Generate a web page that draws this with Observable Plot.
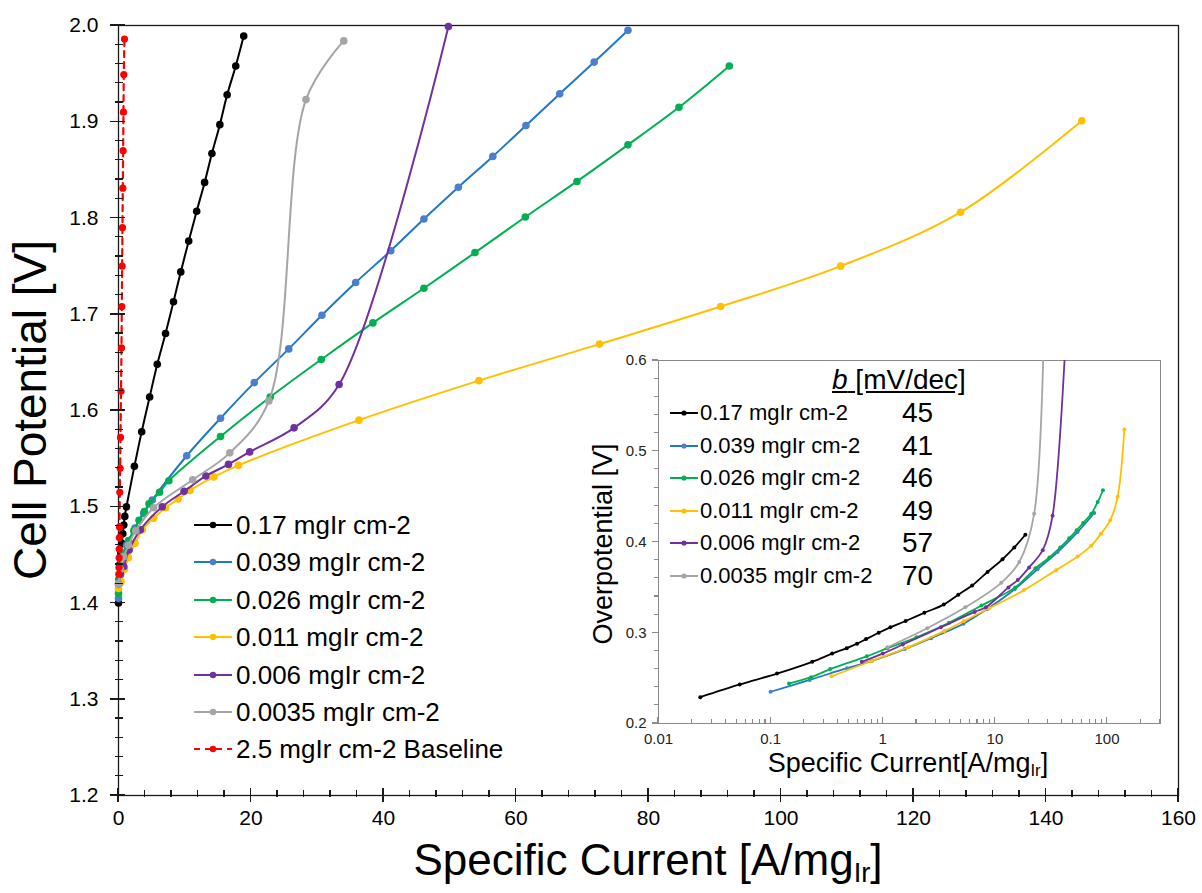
<!DOCTYPE html>
<html><head><meta charset="utf-8">
<script src="https://cdn.jsdelivr.net/npm/d3@7"></script>
<script src="https://cdn.jsdelivr.net/npm/@observablehq/plot@0.6"></script>
<style>
body{margin:0;background:#fff;font-family:"Liberation Sans",Arial,sans-serif;}
#wrap{position:relative;width:1202px;height:893px;overflow:hidden;background:#fff;}
#wrap svg.plot{position:absolute;}
.lbl{position:absolute;white-space:nowrap;color:#000;line-height:1;}
.row{position:absolute;white-space:nowrap;display:flex;align-items:center;line-height:1;color:#000;}
sub{font-size:0.62em;vertical-align:-0.25em;line-height:0;}
</style></head><body><div id="wrap"></div>
<script>
// ---------- series metadata ----------
const seriesNames = ["0.17 mgIr cm-2","0.039 mgIr cm-2","0.026 mgIr cm-2","0.011 mgIr cm-2","0.006 mgIr cm-2","0.0035 mgIr cm-2","2.5 mgIr cm-2 Baseline"];
const lineColors = ["#000000","#1f78c8","#00b050","#ffc000","#7030a0","#a5a5a5","#ff0000"];
const dotColors  = ["#000000","#4a7fd0","#00b050","#ffc000","#7030a0","#a5a5a5","#ff0000"];
const tafelSlopes = ["45","41","46","49","57","70"];

// ---------- main chart data [specific current A/mgIr, cell potential V] ----------
const main017 = [[0,1.40],[0.1,1.425],[0.2,1.44],[0.35,1.452],[0.5,1.462],[0.65,1.472],[0.8,1.481],[0.95,1.49],[1.2,1.50],[2.4,1.542],[3.5,1.578],[4.7,1.614],[5.85,1.648],[7.1,1.680],[8.3,1.713],[9.4,1.744],[10.6,1.776],[11.8,1.807],[13.0,1.837],[14.1,1.867],[15.3,1.897],[16.4,1.928],[17.7,1.958],[18.9,1.989]];
const main039 = [[0,1.405],[0.1,1.42],[0.3,1.435],[0.6,1.447],[1.2,1.46],[2.5,1.478],[3.8,1.493],[5.1,1.507],[10.3,1.553],[15.4,1.592],[20.5,1.629],[25.7,1.664],[30.7,1.699],[35.8,1.733],[41.1,1.766],[46.1,1.799],[51.3,1.832],[56.5,1.864],[61.5,1.896],[66.6,1.929],[71.8,1.962],[76.9,1.995]];
const main026 = [[0,1.41],[0.15,1.425],[0.4,1.44],[0.8,1.452],[1.5,1.465],[2.3,1.475],[3.1,1.486],[3.9,1.495],[4.6,1.503],[6.2,1.515],[7.6,1.527],[15.4,1.573],[22.9,1.614],[30.6,1.653],[38.4,1.691],[46.1,1.727],[53.8,1.764],[61.4,1.801],[69.2,1.838],[76.9,1.876],[84.6,1.915],[92.2,1.958]];
const main011 = [[0,1.415],[0.4,1.422],[0.9,1.435],[1.5,1.447],[2.5,1.462],[3.6,1.476],[5.3,1.488],[7.1,1.499],[9.0,1.508],[10.8,1.517],[14.4,1.531],[18.1,1.543],[36.3,1.590],[54.4,1.631],[72.6,1.669],[90.9,1.708],[109.0,1.750],[127.1,1.806],[145.4,1.901]];
const main006 = [[0,1.42],[0.3,1.43],[0.8,1.438],[1.6,1.455],[3.3,1.476],[6.6,1.500],[9.9,1.516],[13.2,1.532],[16.6,1.544],[19.8,1.557],[26.5,1.582],[33.3,1.627],[49.8,1.999]];
const main0035 = [[0,1.42],[0.3,1.435],[0.8,1.448],[1.5,1.46],[2.6,1.475],[5.3,1.499],[11.2,1.528],[16.8,1.556],[22.7,1.610],[28.3,1.923],[34.0,1.984]];
const mainBase = [[0.05,1.43],[0.07,1.437],[0.09,1.447],[0.11,1.456],[0.13,1.468],[0.15,1.479],[0.2,1.515],[0.25,1.54],[0.3,1.572],[0.38,1.62],[0.45,1.665],[0.5,1.708],[0.55,1.75],[0.6,1.79],[0.65,1.831],[0.7,1.870],[0.75,1.910],[0.8,1.949],[0.9,1.986]];
const mainSeries = [main017, main039, main026, main011, main006, main0035, mainBase];

// ---------- inset data [specific current A/mgIr (log), overpotential V] ----------
const ins017 = [[0.0236,0.229],[0.053,0.243],[0.114,0.255],[0.235,0.268],[0.354,0.277],[0.477,0.283],[0.59,0.288],[0.71,0.293],[0.92,0.300],[1.17,0.306],[1.6,0.313],[2.35,0.322],[3.5,0.331],[4.72,0.342],[6.27,0.352],[8.6,0.367],[11.7,0.381],[14.9,0.394],[18.7,0.408]];
const ins039 = [[0.1,0.235],[0.223,0.248],[0.48,0.261],[0.8,0.269],[1.57,0.282],[2.7,0.294],[5.25,0.310],[8.5,0.326],[15.0,0.348],[24,0.370],[36.3,0.389],[54.7,0.411],[77,0.432]];
const ins026 = [[0.146,0.244],[0.23,0.251],[0.34,0.260],[0.72,0.274],[1.1,0.283],[2.0,0.295],[3.9,0.311],[7.6,0.330],[15.2,0.350],[23,0.371],[30.6,0.383],[38.3,0.394],[46,0.404],[53.7,0.413],[61.4,0.421],[72.4,0.431],[82.6,0.444],[92,0.457]];
const ins011 = [[0.349,0.252],[0.80,0.269],[1.69,0.284],[3.55,0.302],[5.3,0.313],[8.9,0.327],[18.2,0.347],[35.1,0.369],[54.7,0.384],[72.4,0.396],[88.3,0.409],[107,0.424],[124.5,0.450],[142.8,0.524]];
const ins006 = [[0.65,0.268],[1.0,0.277],[1.51,0.287],[3.3,0.306],[6.6,0.323],[8.3,0.328],[13.2,0.350],[16,0.358],[20.2,0.372],[26.7,0.391],[32.7,0.429],[49.8,0.80]];
const ins0035 = [[1.1,0.284],[2.49,0.305],[5.45,0.328],[11.4,0.355],[16.5,0.378],[22.4,0.431],[28.3,0.74]];
const insetSeries = [ins017, ins039, ins026, ins011, ins006, ins0035];

// ---------- ticks ----------
const xMajor = [0,20,40,60,80,100,120,140,160];
const yMajor = [1.2,1.3,1.4,1.5,1.6,1.7,1.8,1.9,2.0];
const xMinor = d3.range(0,161,4).filter(v => v % 20 !== 0);
const yMinor = d3.range(1,40).filter(i => i % 5 !== 0).map(i => 1.2 + i*0.02);
const insXMajor = [0.01,0.1,1,10,100];
const insYMajor = [0.2,0.3,0.4,0.5,0.6];
const insXMinor = [0.01,0.1,1,10,100].flatMap(d => d3.range(2,10).map(k => k*d)).filter(v => v <= 300);
const insYMinor = d3.range(1,20).filter(i => i % 5 !== 0).map(i => 0.2 + i*0.02);

const FONT = "Liberation Sans, Arial, sans-serif";
const AX = "#1a1a1a";

// ---------- main plot ----------
const mainMarks = [Plot.frame({stroke: AX, strokeWidth: 1.3})];
mainSeries.forEach((s, i) => {
  const isBase = i === 6;
  mainMarks.push(Plot.line(s, {x: d => d[0], y: d => d[1], stroke: lineColors[i], strokeWidth: isBase ? 2.2 : 2, curve: "catmull-rom", strokeDasharray: isBase ? "6,5" : null}));
  mainMarks.push(Plot.dot(s, {x: d => d[0], y: d => d[1], fill: dotColors[i], r: isBase ? 3.6 : 3.8, stroke: "none"}));
});
mainMarks.push(
  Plot.axisX({ticks: xMajor, tickSize: 0, tickPadding: 15, tickFormat: d => String(d), label: null}),
  Plot.axisY({ticks: yMajor, tickSize: 0, tickPadding: 20, tickFormat: d => d.toFixed(1), label: null})
);
const mainPlot = Plot.plot({
  width: 1202, height: 893, marginLeft: 118, marginRight: 24, marginTop: 25, marginBottom: 98,
  x: {domain: [0,160], label: null},
  y: {domain: [1.2,2.0], label: null},
  style: {fontSize: "21px", fontFamily: FONT, background: "transparent", color: "#000"},
  marks: mainMarks
});
mainPlot.classList.add("plot");
mainPlot.style.left = "0px"; mainPlot.style.top = "0px";

// ---------- inset plot ----------
const IG = "#8a8a8a";
const insetMarks = [Plot.frame({fill: "white", stroke: IG, strokeWidth: 1})];
insetSeries.forEach((s, i) => {
  insetMarks.push(Plot.line(s, {x: d => d[0], y: d => d[1], stroke: lineColors[i], strokeWidth: 1.8, curve: "catmull-rom", clip: true}));
  insetMarks.push(Plot.dot(s, {x: d => d[0], y: d => d[1], fill: dotColors[i], r: 2, stroke: "none", clip: true}));
});
insetMarks.push(
  Plot.axisX({ticks: insXMajor, tickSize: 0, tickPadding: 10, tickFormat: d => String(d), label: null}),
  Plot.axisY({ticks: insYMajor, tickSize: 0, tickPadding: 12, tickFormat: d => d.toFixed(1), label: null})
);
const insetPlot = Plot.plot({
  width: 620, height: 450, marginLeft: 98, marginRight: 20, marginTop: 20, marginBottom: 67,
  x: {type: "log", domain: [0.01, 300], label: null},
  y: {domain: [0.2, 0.6], label: null},
  style: {fontSize: "15px", fontFamily: FONT, background: "transparent", color: "#222"},
  marks: insetMarks
});
insetPlot.classList.add("plot");
insetPlot.style.left = "560px"; insetPlot.style.top = "340px";

// ---------- tick marks drawn with the plots' own scales ----------
function drawTicks(svg, {xVals, yVals, x0, y0, up, down, left, right, color, width}) {
  const sx = svg.scale("x"), sy = svg.scale("y");
  const g = d3.select(svg).append("g").attr("stroke", color).attr("stroke-width", width).attr("shape-rendering", "crispEdges");
  const py = sy.apply(y0), px = sx.apply(x0);
  xVals.forEach(v => { const p = sx.apply(v); g.append("line").attr("x1", p).attr("x2", p).attr("y1", py - up).attr("y2", py + down); });
  yVals.forEach(v => { const p = sy.apply(v); g.append("line").attr("y1", p).attr("y2", p).attr("x1", px - left).attr("x2", px + right); });
}
drawTicks(mainPlot, {xVals: xMajor, yVals: yMajor, x0: 0, y0: 1.2, up: 7, down: 7, left: 8, right: 7, color: AX, width: 1.5});
drawTicks(mainPlot, {xVals: xMinor, yVals: yMinor, x0: 0, y0: 1.2, up: 5, down: 2, left: 3, right: 5, color: AX, width: 1.2});
drawTicks(insetPlot, {xVals: insXMajor, yVals: insYMajor, x0: 0.01, y0: 0.2, up: 6, down: 0, left: 6, right: 0, color: IG, width: 1.1});
drawTicks(insetPlot, {xVals: insXMinor, yVals: insYMinor, x0: 0.01, y0: 0.2, up: 4, down: 0, left: 4, right: 0, color: IG, width: 1.1});

const wrap = document.getElementById("wrap");
wrap.appendChild(mainPlot);
wrap.appendChild(insetPlot);

// ---------- text overlays ----------
function addLabel(html, css) {
  const d = document.createElement("div");
  d.className = "lbl";
  d.innerHTML = html;
  Object.assign(d.style, css);
  wrap.appendChild(d);
  return d;
}
addLabel("Cell Potential [V]", {left: "30px", top: "410px", fontSize: "46px", transform: "translate(-50%,-50%) rotate(-90deg)"});
addLabel("Specific Current [A/mg<sub>Ir</sub>]", {left: "648px", top: "860px", fontSize: "44px", transform: "translate(-50%,-50%)"});
addLabel("Overpotential [V]", {left: "603px", top: "544px", fontSize: "27px", transform: "translate(-50%,-50%) rotate(-90deg)"});
addLabel("Specific Current[A/mg<sub>Ir</sub>]", {left: "908px", top: "763px", fontSize: "27px", transform: "translate(-50%,-50%)"});
addLabel("<i>b</i> [mV/dec]", {left: "832px", top: "380px", fontSize: "28px", textDecoration: "underline", transform: "translateY(-50%)"});

// legends
function swatch(i, w, r) {
  const dash = i === 6 ? ' stroke-dasharray="6,5"' : '';
  return `<svg width="${w}" height="14" style="flex:none;overflow:visible"><line x1="0" y1="7" x2="${w}" y2="7" stroke="${lineColors[i]}" stroke-width="2"${dash}/><circle cx="${w/2}" cy="7" r="${r}" fill="${dotColors[i]}"/></svg>`;
}
const mainLegendY = [525, 562, 600, 637, 675, 712, 749];
seriesNames.forEach((n, i) => {
  const d = document.createElement("div");
  d.className = "row";
  d.innerHTML = swatch(i, 38, 3.2) + `<span style="margin-left:4px">${n}</span>`;
  Object.assign(d.style, {left: "194px", top: mainLegendY[i] + "px", fontSize: "26px", transform: "translateY(-50%)"});
  wrap.appendChild(d);
});
const insLegendY = [413, 446, 478, 511, 543, 576];
seriesNames.slice(0, 6).forEach((n, i) => {
  const d = document.createElement("div");
  d.className = "row";
  d.innerHTML = swatch(i, 28, 2.6) + `<span style="margin-left:2px">${n}</span>`;
  Object.assign(d.style, {left: "670px", top: insLegendY[i] + "px", fontSize: "22px", transform: "translateY(-50%)"});
  wrap.appendChild(d);
  addLabel(tafelSlopes[i], {left: "902px", top: insLegendY[i] + "px", fontSize: "28px", transform: "translateY(-50%)"});
});
</script></body></html>
